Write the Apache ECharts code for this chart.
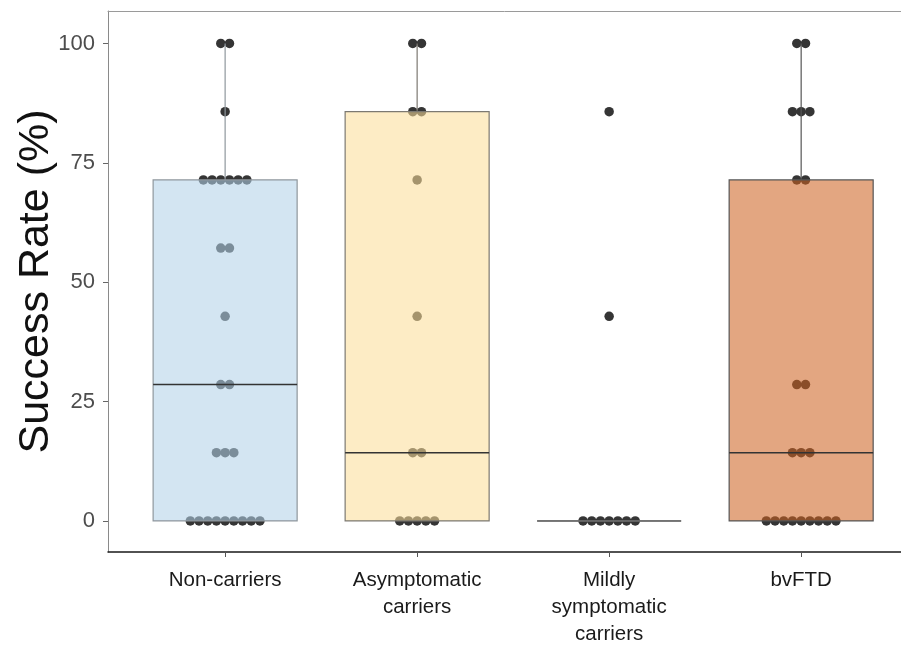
<!DOCTYPE html>
<html>
<head>
<meta charset="utf-8">
<script src="https://cdn.jsdelivr.net/npm/echarts@6/dist/echarts.min.js"></script>
<style>html,body{margin:0;padding:0;background:#fff;}#c{width:901px;height:648px;}</style>
</head>
<body>
<div id="c"></div>
<script>
// ---- data ----
const categories = ['Non-carriers', 'Asymptomatic\ncarriers', 'Mildly\nsymptomatic\ncarriers', 'bvFTD'];
const yTicks = [0, 25, 50, 75, 100];
const nonCarriers = [100, 100, 85.71, 71.43, 71.43, 71.43, 71.43, 71.43, 71.43, 57.14, 57.14, 42.86, 28.57, 28.57, 14.29, 14.29, 14.29, 0, 0, 0, 0, 0, 0, 0, 0, 0];
const asymptomatic = [100, 100, 85.71, 85.71, 71.43, 42.86, 14.29, 14.29, 0, 0, 0, 0, 0];
const mildly = [85.71, 42.86, 0, 0, 0, 0, 0, 0, 0];
const bvFTD = [100, 100, 85.71, 85.71, 85.71, 71.43, 71.43, 28.57, 28.57, 14.29, 14.29, 14.29, 0, 0, 0, 0, 0, 0, 0, 0, 0];
// box stats: [lowerWhisker, q1, median, q3, upperWhisker]
const boxNon = [0, 0, 28.57, 71.43, 100];
const boxAsym = [0, 0, 14.29, 85.71, 100];
const boxMild = [0, 0, 0, 0, 0];
const boxBv = [0, 0, 14.29, 71.43, 100];

const groups = [nonCarriers, asymptomatic, mildly, bvFTD];
const boxes = [boxNon, boxAsym, boxMild, boxBv];
const fills = ['rgba(178,209,232,0.57)', 'rgba(252,221,153,0.57)', 'rgba(255,255,255,0)', 'rgba(206,98,34,0.57)'];
const edges = ['#8f979d', '#7c7972', '#7a7a7a', '#555555'];
const medians = ['#333333', '#333333', '#666666', '#333333'];

// dots stacked horizontally (centre-stacked) per value
const spacing = 8.7;
const dotData = [];
groups.forEach((vals, gi) => {
  const counts = {};
  vals.forEach(v => { counts[v] = (counts[v] || 0) + 1; });
  const seen = {};
  vals.forEach(v => {
    const n = counts[v];
    const i = seen[v] || 0; seen[v] = i + 1;
    dotData.push({ value: [gi + 1, v], symbolOffset: [(i - (n - 1) / 2) * spacing, 0] });
  });
});

const boxData = boxes.map((b, i) => [i + 1].concat(b));

const chart = echarts.init(document.getElementById('c'));
chart.setOption({
  animation: false,
  textStyle: { fontFamily: 'Liberation Sans, Arial, sans-serif' },
  grid: { left: 108, top: 11, right: 0, bottom: 96, show: false, containLabel: false, outerBoundsMode: 'none' },
  xAxis: [{
    type: 'value', min: 0.39, max: 4.52,
    splitLine: { show: false },
    axisLine: { show: true, onZero: false, lineStyle: { color: '#1a1a1a', width: 1.5 } },
    axisTick: { show: true, length: 5, lineStyle: { color: '#555' }, customValues: [1, 2, 3, 4] },
    axisLabel: {
      customValues: [1, 2, 3, 4],
      formatter: v => categories[Math.round(v) - 1] || '',
      fontSize: 20.5, lineHeight: 27, color: '#1a1a1a', margin: 15
    }
  }, {
    type: 'value', position: 'top', min: 0.39, max: 4.52,
    splitLine: { show: false }, axisTick: { show: false }, axisLabel: { show: false },
    axisLine: { show: true, onZero: false, lineStyle: { color: '#9a9a9a', width: 1 } }
  }],
  yAxis: {
    type: 'value', min: -6.5, max: 106.8,
    name: 'Success Rate (%)', nameLocation: 'middle', nameGap: 50, nameMoveOverlap: false,
    nameTextStyle: { fontSize: 43, color: '#111' },
    splitLine: { show: false },
    axisLine: { show: true, onZero: false, lineStyle: { color: '#8a8a8a' } },
    axisTick: { show: true, length: 5, lineStyle: { color: '#666' }, customValues: yTicks },
    axisLabel: { customValues: yTicks, fontSize: 22, color: '#4d4d4d', margin: 13 }
  },
  series: [
    {
      type: 'scatter', z: 1, symbol: 'circle', symbolSize: 9.5,
      itemStyle: { color: '#353535', opacity: 1 },
      data: dotData
    },
    {
      type: 'custom', z: 3,
      data: boxData,
      encode: { x: 0, y: [1, 2, 3, 4, 5] },
      renderItem: function (params, api) {
        const idx = params.dataIndex;
        const x = api.value(0);
        const lo = api.coord([x, api.value(1)]);
        const q1 = api.coord([x, api.value(2)]);
        const md = api.coord([x, api.value(3)]);
        const q3 = api.coord([x, api.value(4)]);
        const hi = api.coord([x, api.value(5)]);
        const halfW = api.size([0.75, 0])[0] / 2;
        const cx = q1[0];
        const edge = edges[idx];
        return {
          type: 'group',
          children: [
            { type: 'line', shape: { x1: cx, y1: q3[1], x2: cx, y2: hi[1] }, style: { stroke: edge, lineWidth: 1.2 } },
            { type: 'line', shape: { x1: cx, y1: q1[1], x2: cx, y2: lo[1] }, style: { stroke: edge, lineWidth: 1.2 } },
            { type: 'rect', shape: { x: cx - halfW, y: q3[1], width: halfW * 2, height: q1[1] - q3[1] }, style: { fill: fills[idx], stroke: edge, lineWidth: 1.2 } },
            { type: 'line', shape: { x1: cx - halfW, y1: md[1], x2: cx + halfW, y2: md[1] }, style: { stroke: medians[idx], lineWidth: 1.6 } }
          ]
        };
      }
    }
  ]
});
</script>
</body>
</html>
